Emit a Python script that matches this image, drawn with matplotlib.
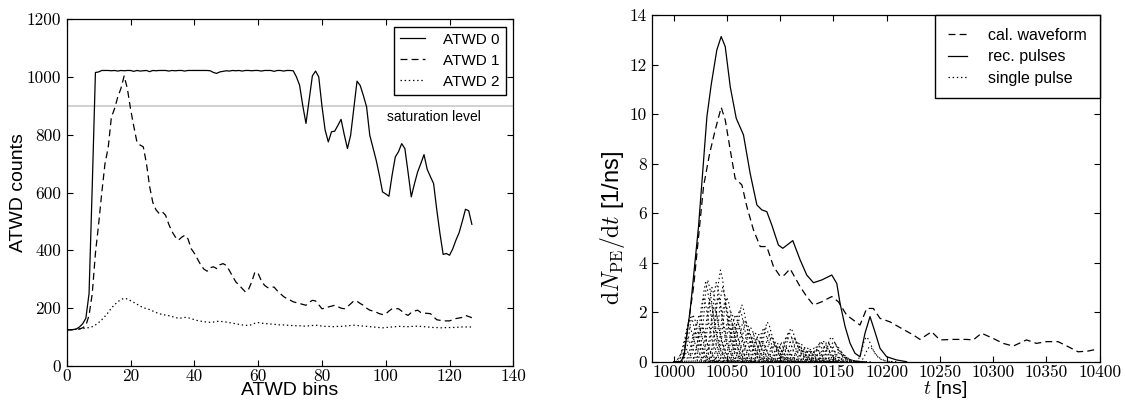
import numpy as np
import matplotlib
matplotlib.use("Agg")
import matplotlib.pyplot as plt

plt.rcParams["font.family"] = "sans-serif"
plt.rcParams["font.sans-serif"] = ["Liberation Sans", "DejaVu Sans"]
plt.rcParams["mathtext.fontset"] = "cm"
plt.rcParams["axes.unicode_minus"] = False
plt.rcParams["lines.scale_dashes"] = False

# ---- left panel: ATWD channels ----
atwd0 = [125, 125, 126, 128, 135, 146, 165, 250, 620, 1015,
         1017, 1022, 1022, 1022, 1021, 1022, 1020, 1022, 1021, 1022,
         1022, 1019, 1022, 1020, 1021, 1022, 1018, 1022, 1021, 1022,
         1022, 1022, 1020, 1022, 1021, 1022, 1022, 1020, 1022, 1022,
         1022, 1022, 1022, 1022, 1022, 1021, 1015, 1012, 1017, 1019,
         1021, 1020, 1022, 1021, 1022, 1020, 1022, 1022, 1021, 1022,
         1022, 1020, 1022, 1022, 1022, 1019, 1022, 1022, 1020, 1022,
         1022, 1021, 1000, 971, 900, 839, 920, 1003, 1020, 1000,
         900, 816, 775, 810, 812, 832, 853, 800, 752, 798,
         890, 985, 970, 935, 896, 798, 755, 712, 660, 602,
         595, 587, 660, 723, 741, 769, 752, 670, 585, 630,
         671, 700, 731, 680, 655, 631, 540, 458, 386, 389,
         383, 405, 435, 461, 500, 542, 537, 490]
atwd1 = [125, 125, 126, 127, 128, 132, 140, 175, 250, 390,
         490, 600, 700, 755, 860, 890, 930, 960, 1003, 960,
         890, 830, 775, 764, 758, 700, 620, 565, 540, 527,
         533, 521, 490, 465, 447, 435, 445, 452, 440, 406,
         390, 370, 350, 335, 328, 340, 343, 337, 350, 354,
         348, 330, 310, 291, 280, 268, 256, 265, 291, 325,
         320, 295, 279, 271, 272, 273, 260, 250, 240, 233,
         228, 222, 219, 216, 213, 210, 220, 227, 225, 212,
         198, 200, 204, 207, 210, 205, 200, 198, 205, 215,
         225, 224, 216, 210, 200, 193, 190, 186, 181, 178,
         180, 190, 198, 198, 198, 190, 180, 175, 185, 190,
         193, 185, 183, 182, 181, 170, 160, 158, 156, 156,
         156, 160, 164, 166, 168, 175, 171, 167]
atwd2 = [125, 125, 126, 127, 128, 130, 131, 133, 136, 142,
         150, 160, 172, 185, 200, 212, 222, 230, 234, 232,
         226, 220, 214, 207, 202, 198, 195, 190, 185, 181,
         178, 176, 174, 171, 168, 165, 166, 168, 167, 164,
         160, 157, 155, 153, 152, 151, 152, 154, 155, 153,
         152, 150, 148, 146, 144, 142, 141, 140, 143, 148,
         150, 148, 147, 146, 145, 144, 143, 142, 142, 141,
         140, 140, 139, 139, 138, 138, 139, 140, 141, 140,
         138, 137, 137, 136, 136, 137, 137, 138, 139, 140,
         141, 140, 139, 138, 137, 136, 135, 134, 133, 132,
         133, 134, 135, 136, 137, 137, 136, 136, 137, 137,
         138, 137, 136, 135, 134, 133, 133, 132, 132, 133,
         133, 133, 134, 134, 135, 135, 135, 135]
saturation = 900

# ---- right panel: waveform and pulses ----
t_cal = [10000, 10008, 10009.4, 10018.8, 10028.1, 10033.8, 10039.1, 10044.7, 10048.5,
         10053.2, 10057.8, 10064.1, 10068.8, 10075, 10081.3, 10087.5, 10093.8, 10100,
         10104, 10109.4, 10118.8, 10125, 10131.3, 10139.1, 10148.5, 10154.7, 10162.5,
         10168.8, 10175, 10181.3, 10187.5, 10193.8, 10203.1, 10212.5, 10225, 10231.3,
         10242.2, 10250, 10262.5, 10275, 10281.3, 10289.1, 10300, 10309.4, 10318.8,
         10331.3, 10340.6, 10350, 10360.9, 10370.3, 10379.7, 10389, 10396.9]
cal_wf = [0, 0, 0.2, 3.03, 7.07, 8.4, 9.36, 10.27, 9.76,
          8.55, 7.4, 7.14, 6.26, 5.32, 4.65, 4.65, 3.84, 3.45,
          3.5, 3.75, 3.03, 2.63, 2.29, 2.42, 2.63, 2.42, 1.88,
          1.68, 1.48, 2.15, 2.15, 1.75, 1.61, 1.38, 1.08, 0.9,
          1.21, 0.88, 0.9, 0.9, 0.88, 1.15, 0.94, 0.74, 0.63,
          0.88, 0.74, 0.81, 0.81, 0.61, 0.4, 0.43, 0.5]

t_rec = [10000, 10007, 10010, 10015.6, 10023.4, 10031.3, 10035.3, 10040.6, 10044.7,
         10048.5, 10053.2, 10058.8, 10065.6, 10071.9, 10078.2, 10082.8, 10087.5, 10092.2,
         10098.4, 10102.5, 10104.7, 10111.9, 10118.8, 10125, 10131.3, 10139.1, 10148.5,
         10153.2, 10156.3, 10161, 10165.7, 10170.3, 10175, 10179.7, 10184.4, 10189,
         10193.8, 10200, 10209.4, 10218.8]
rec_pulses = [0, 0, 0.3, 2.09, 5.45, 9.9, 11.18, 12.59, 13.13,
              12.72, 11.1, 9.83, 9.16, 7.6, 6.33, 6.13, 6.06, 5.52,
              4.71, 4.58, 4.65, 4.89, 4.11, 3.5, 3.19, 3.3, 3.5,
              3.16, 2.35, 1.42, 0.74, 0.34, 0.2, 1.15, 1.82, 1.21,
              0.54, 0.2, 0.07, 0.0]

# single pulse shape (normalised), sampled around its peak
shape_dt = [-10, -8, -6, -4, -2, 0, 2, 4, 6, 8, 10, 13, 16, 20, 25]
shape_val = [0, 0.06, 0.22, 0.5, 0.85, 1.0, 0.9, 0.7, 0.5, 0.34, 0.22, 0.11, 0.05, 0.015, 0]

pulse_t = [10010, 10012, 10014, 10016, 10018, 10020, 10022, 10024, 10026, 10028,
           10030, 10032, 10034, 10036, 10038, 10040, 10042, 10044, 10046, 10048,
           10050, 10052, 10054, 10056, 10058, 10060, 10062, 10064, 10066, 10068,
           10070, 10072, 10074, 10076, 10078, 10080, 10082, 10084, 10086, 10088,
           10090, 10092, 10094, 10096, 10098, 10100, 10102, 10104, 10106, 10108,
           10110, 10112, 10114, 10116, 10118, 10120, 10122, 10124, 10126, 10128,
           10130, 10132, 10134, 10136, 10138, 10140, 10142, 10144, 10146, 10148,
           10150, 10152, 10154, 10156, 10158, 10160, 10181, 10184]
pulse_amp = [0.5, 1.0, 1.5, 1.8, 1.9, 1.2, 1.6, 1.9, 1.4, 2.6,
             3.2, 3.3, 2.5, 3.0, 2.2, 3.2, 2.6, 3.7, 3.0, 2.4,
             2.6, 1.8, 2.0, 1.5, 1.9, 1.6, 2.1, 2.3, 1.7, 1.6,
             1.2, 1.4, 1.0, 1.2, 0.9, 1.1, 0.8, 1.3, 1.4, 1.6,
             1.1, 1.0, 0.7, 0.8, 0.6, 0.7, 0.8, 0.6, 1.0, 1.2,
             1.35, 1.0, 0.9, 0.8, 0.6, 0.7, 0.5, 0.6, 0.45, 0.5,
             0.4, 0.55, 0.5, 0.7, 0.8, 0.85, 0.6, 0.8, 0.7, 1.0,
             0.8, 0.7, 0.5, 0.4, 0.25, 0.15, 1.0, 0.6]

DASHED = (0, (5, 3))
DOTTED = (0, (1, 2))
LW = 0.9

fig = plt.figure(figsize=(11.25, 4.01), dpi=100)
ax1 = fig.add_axes([0.0593, 0.0873, 0.3970, 0.8653])
ax2 = fig.add_axes([0.5798, 0.0980, 0.3977, 0.8646])

bins = np.arange(len(atwd0))
ax1.axhline(saturation, color="#c8c8c8", linewidth=1.2, zorder=1)
ax1.plot(bins, atwd0, color="black", linewidth=LW, label="ATWD 0")
ax1.plot(bins, atwd1, color="black", linewidth=LW, linestyle=DASHED, label="ATWD 1")
ax1.plot(bins, atwd2, color="black", linewidth=LW, linestyle=DOTTED, label="ATWD 2")
ax1.text(100.3, 862, "saturation level", fontsize=10, ha="left", va="center")
ax1.set_xlim(0, 140)
ax1.set_ylim(0, 1200)
ax1.set_xticks(np.arange(0, 141, 20))
ax1.set_yticks(np.arange(0, 1201, 200))
ax1.set_xlabel("ATWD bins", fontsize=14)
ax1.set_ylabel("ATWD counts", fontsize=14)
ax1.yaxis.set_label_coords(-0.09, 0.5)
ax1.xaxis.set_label_coords(0.5, -0.047)
ax1.legend(loc="upper right", fontsize=11, fancybox=False, edgecolor="black",
           handlelength=1.6, handletextpad=1.2, labelspacing=0.45,
           borderaxespad=0.5, framealpha=1)

for t0, amp in zip(pulse_t, pulse_amp):
    ax2.plot(np.add(t0, shape_dt), np.multiply(amp, shape_val), color="black",
             linewidth=0.8, linestyle=DOTTED)
ax2.plot(t_cal, cal_wf, color="black", linewidth=LW, linestyle=DASHED, label="cal. waveform")
ax2.plot(t_rec, rec_pulses, color="black", linewidth=LW, label="rec. pulses")
ax2.plot([], [], color="black", linewidth=LW, linestyle=DOTTED, label="single pulse")
ax2.set_xlim(9980, 10400)
ax2.set_ylim(0, 14)
ax2.set_xticks(np.arange(10000, 10401, 50))
ax2.set_yticks(np.arange(0, 15, 2))
ax2.set_xlabel("$t$ [ns]", fontsize=14)
ax2.set_ylabel(r"$\mathrm{d}N_{\mathrm{PE}}/\mathrm{d}t$ [1/ns]", fontsize=17)
ax2.yaxis.set_label_coords(-0.057, 0.386)
ax2.xaxis.set_label_coords(0.654, -0.05)
ax2.legend(loc="upper right", fontsize=11.5, fancybox=False, edgecolor="black",
           handlelength=1.2, handletextpad=1.3, labelspacing=0.4, borderpad=0.8,
           borderaxespad=0.0, framealpha=1)

for ax in (ax1, ax2):
    ax.tick_params(direction="in", top=True, right=True, length=4, width=0.8,
                   labelsize=12.5, labelfontfamily="cmr10")
    ax.tick_params(axis="x", pad=2)
    ax.tick_params(axis="y", pad=4)
    for sp in ax.spines.values():
        sp.set_linewidth(0.9)

fig.savefig("out.png", dpi=100)
